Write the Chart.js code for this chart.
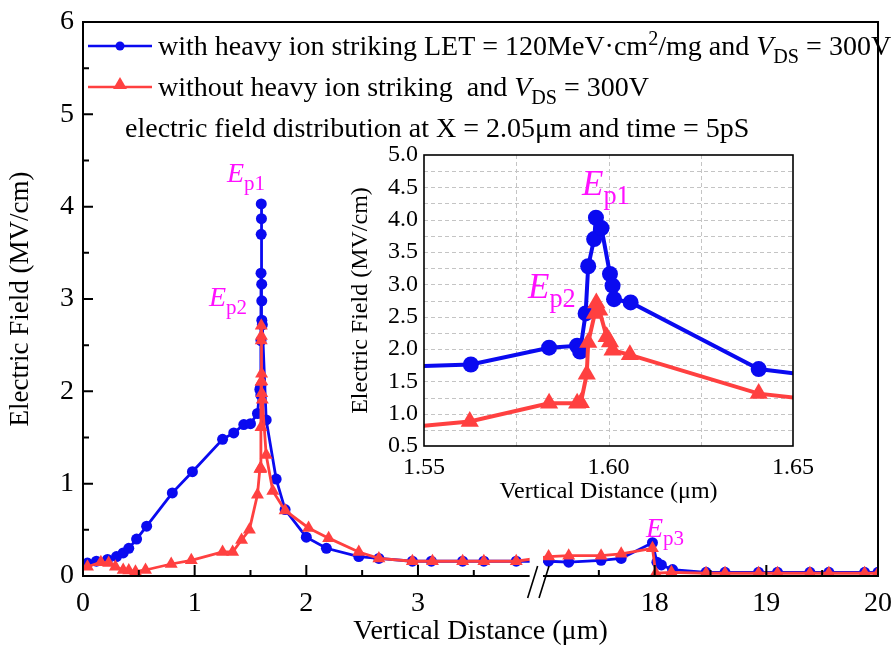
<!DOCTYPE html>
<html>
<head>
<meta charset="utf-8">
<script src="https://cdn.jsdelivr.net/npm/chart.js@4.4.1/dist/chart.umd.min.js"></script>
<style>
  body { margin: 0; background: #fff; }
  #wrap { position: relative; width: 894px; height: 648px; overflow: hidden; }
  #main { position: absolute; left: 0; top: 0; }
  #inset { position: absolute; left: 340px; top: 144px; }
</style>
</head>
<body>
<div id="wrap">
  <canvas id="main" width="894" height="648"></canvas>
  <canvas id="inset" width="490" height="366"></canvas>
</div>
<script>
// with heavy ion striking (blue circles)
const blueX = [0.04, 0.12, 0.22, 0.30, 0.36, 0.41, 0.48, 0.57, 0.80, 0.98, 1.25, 1.35, 1.44, 1.50,
  1.5627, 1.5839, 1.5915, 1.5923, 1.5938, 1.5945, 1.5961, 1.5966, 1.5981, 1.6004, 1.6011, 1.6015, 1.6060, 1.6407,
  1.73, 1.81, 2.00, 2.18, 2.47, 2.65, 2.95, 3.12, 3.40, 3.59, 3.88,
  17.05, 17.23, 17.52, 17.70, 17.98, 18.02, 18.06, 18.16, 18.46, 18.63, 18.93, 19.10, 19.39, 19.56, 19.88, 20.00];
const blueY = [0.14, 0.16, 0.18, 0.21, 0.25, 0.30, 0.40, 0.54, 0.90, 1.13, 1.48, 1.55, 1.64, 1.65,
  1.76, 2.02, 2.05, 1.96, 2.55, 3.28, 3.70, 4.03, 3.87, 3.16, 2.98, 2.77, 2.72, 1.69,
  1.05, 0.72, 0.42, 0.30, 0.21, 0.19, 0.16, 0.16, 0.16, 0.16, 0.16,
  0.16, 0.15, 0.17, 0.19, 0.36, 0.15, 0.12, 0.07, 0.04, 0.04, 0.04, 0.04, 0.04, 0.04, 0.04, 0.04];

// without heavy ion striking (red triangles)
const redX = [0.04, 0.16, 0.23, 0.29, 0.36, 0.41, 0.47, 0.56, 0.79, 0.97, 1.25, 1.34, 1.42, 1.49,
  1.5624, 1.5839, 1.5915, 1.5925, 1.5941, 1.5945, 1.5963, 1.5967, 1.5975, 1.5995, 1.6004, 1.6011, 1.6058, 1.6407,
  1.70, 1.81, 2.02, 2.20, 2.47, 2.65, 2.95, 3.13, 3.40, 3.59, 3.88,
  17.05, 17.23, 17.52, 17.70, 17.98, 18.01, 18.15, 18.46, 18.63, 18.93, 19.10, 19.39, 19.56, 19.88, 20.00];
const redY = [0.10, 0.15, 0.14, 0.10, 0.065, 0.06, 0.047, 0.065, 0.13, 0.17, 0.26, 0.26, 0.39, 0.50,
  0.88, 1.16, 1.16, 1.17, 1.61, 2.10, 2.55, 2.71, 2.60, 2.19, 2.11, 1.98, 1.91, 1.31,
  0.92, 0.71, 0.52, 0.41, 0.26, 0.19, 0.16, 0.16, 0.16, 0.16, 0.16,
  0.21, 0.22, 0.22, 0.24, 0.30, 0.03, 0.04, 0.03, 0.03, 0.03, 0.03, 0.03, 0.03, 0.03, 0.03];

const xMajor = [0, 1, 2, 3, 18, 19, 20];
const xMinor = [0.5, 1.5, 2.5, 3.5, 17.5, 18.5, 19.5];
const yMajor = [0, 1, 2, 3, 4, 5, 6];

// broken x axis: 0..4 then 17..20
const LEFT_END = 4.0;
const RIGHT_START = 17.0;
const SHIFT = 12.88;
function toAxis(x) { return x < 10 ? x : x - SHIFT; }
function fromAxis(u) { return u > LEFT_END + 0.06 ? u + SHIFT : u; }

const BLUE = '#0a0af0';
const RED = '#ff4040';
const PINK = '#ff10ff';
const SERIF = '"Liberation Serif", "Times New Roman", serif';

function pts(xs, ys, map) {
  return xs.map((x, i) => ({ x: map ? toAxis(x) : x, y: ys[i] }));
}

// draw text with italic / sub / sup pieces
function drawRich(ctx, x, y, parts, size) {
  ctx.textBaseline = 'alphabetic';
  ctx.textAlign = 'left';
  parts.forEach(p => {
    const s = (p.sub || p.sup) ? size * (p.k || 0.72) : size;
    ctx.font = (p.it ? 'italic ' : '') + s + 'px ' + SERIF;
    const dy = p.sub ? size * 0.27 : p.sup ? -size * 0.36 : 0;
    ctx.fillText(p.t, x, y + dy);
    x += ctx.measureText(p.t).width;
  });
}

function triangle(ctx, cx, cy, r) {
  ctx.beginPath();
  ctx.moveTo(cx, cy - r);
  ctx.lineTo(cx + r * 0.87, cy + r * 0.5);
  ctx.lineTo(cx - r * 0.87, cy + r * 0.5);
  ctx.closePath();
  ctx.fill();
}

function noSidePad(scale) {
  scale.paddingLeft = 0;
  scale.paddingRight = 0;
}
function noEndPad(scale) {
  scale.paddingTop = 0;
  scale.paddingBottom = 0;
}

const mainDecor = {
  id: 'mainDecor',
  beforeDraw(chart) {
    const ctx = chart.ctx;
    ctx.save();
    ctx.fillStyle = '#fff';
    ctx.fillRect(0, 0, chart.width, chart.height);
    ctx.restore();
  },
  afterDatasetsDraw(chart) {
    const { ctx, chartArea: a, scales: { x, y } } = chart;
    const g0 = x.getPixelForValue(toAxis(LEFT_END));
    const g1 = x.getPixelForValue(toAxis(RIGHT_START));
    ctx.save();
    // blank the gap of the broken axis
    ctx.fillStyle = '#fff';
    ctx.fillRect(g0, a.top + 1, g1 - g0, a.bottom - a.top - 1);

    // frame
    ctx.strokeStyle = '#000';
    ctx.lineWidth = 2;
    ctx.beginPath();
    ctx.moveTo(g0, a.bottom); ctx.lineTo(a.left, a.bottom);
    ctx.lineTo(a.left, a.top); ctx.lineTo(a.right, a.top);
    ctx.lineTo(a.right, a.bottom); ctx.lineTo(g1, a.bottom);
    ctx.stroke();

    // inward ticks
    ctx.beginPath();
    xMajor.forEach(v => { const px = x.getPixelForValue(toAxis(v)); ctx.moveTo(px, a.bottom); ctx.lineTo(px, a.bottom - 11); });
    xMinor.forEach(v => { const px = x.getPixelForValue(toAxis(v)); ctx.moveTo(px, a.bottom); ctx.lineTo(px, a.bottom - 6); });
    yMajor.forEach(v => { const py = y.getPixelForValue(v); ctx.moveTo(a.left, py); ctx.lineTo(a.left + 10, py); });
    yMajor.slice(0, -1).forEach(v => { const py = y.getPixelForValue(v + 0.5); ctx.moveTo(a.left, py); ctx.lineTo(a.left + 6, py); });
    ctx.stroke();

    // break marks
    ctx.lineWidth = 1.6;
    ctx.beginPath();
    [g0 + 5, g1 + 3].forEach(bx => { ctx.moveTo(bx - 7, a.bottom + 22); ctx.lineTo(bx + 3, a.bottom - 10); });
    ctx.stroke();

    // legend
    ctx.lineWidth = 2.5;
    ctx.strokeStyle = BLUE; ctx.fillStyle = BLUE;
    ctx.beginPath(); ctx.moveTo(88, 46); ctx.lineTo(152, 46); ctx.stroke();
    ctx.beginPath(); ctx.arc(120, 46, 4.5, 0, Math.PI * 2); ctx.fill();
    ctx.strokeStyle = RED; ctx.fillStyle = RED;
    ctx.beginPath(); ctx.moveTo(88, 87); ctx.lineTo(152, 87); ctx.stroke();
    triangle(ctx, 120, 85, 8);

    ctx.fillStyle = '#000';
    drawRich(ctx, 158, 55, [
      { t: 'with heavy ion striking LET = 120MeV\u00b7cm' }, { t: '2', sup: true },
      { t: '/mg and ' }, { t: 'V', it: true }, { t: 'DS', sub: true }, { t: ' = 300V' }
    ], 28);
    drawRich(ctx, 158, 96, [
      { t: 'without heavy ion striking  and ' }, { t: 'V', it: true }, { t: 'DS', sub: true }, { t: ' = 300V' }
    ], 28);
    drawRich(ctx, 125, 137, [{ t: 'electric field distribution at X = 2.05\u03bcm and time = 5pS' }], 28);

    // peak labels
    ctx.fillStyle = PINK;
    drawRich(ctx, 227, 182, [{ t: 'E', it: true }, { t: 'p1', sub: true, k: 0.75 }], 28);
    drawRich(ctx, 209, 306, [{ t: 'E', it: true }, { t: 'p2', sub: true, k: 0.75 }], 28);
    drawRich(ctx, 646, 537, [{ t: 'E', it: true }, { t: 'p3', sub: true, k: 0.75 }], 28);
    ctx.restore();
  }
};

new Chart(document.getElementById('main'), {
  type: 'line',
  data: {
    datasets: [{
      label: 'without heavy ion striking and VDS = 300V',
      data: pts(redX, redY, true),
      borderColor: RED, backgroundColor: RED,
      borderWidth: 2.8, pointStyle: 'triangle', pointRadius: 7.5,
      pointBorderWidth: 0, order: 1
    }, {
      label: 'with heavy ion striking LET = 120MeV·cm2/mg and VDS = 300V',
      data: pts(blueX, blueY, true),
      borderColor: BLUE, backgroundColor: BLUE,
      borderWidth: 2.8, pointStyle: 'circle', pointRadius: 5.5,
      pointBorderWidth: 0, order: 2
    }]
  },
  options: {
    responsive: false,
    animation: false,
    layout: { padding: { top: 22, right: 16, left: 0, bottom: 0 } },
    plugins: { legend: { display: false }, tooltip: { enabled: false } },
    scales: {
      x: {
        type: 'linear', min: 0, max: 7.12,
        grid: { display: false, drawTicks: false }, border: { display: false },
        afterBuildTicks(scale) { scale.ticks = xMajor.map(v => ({ value: toAxis(v) })); },
        afterFit(scale) { scale.height = 72; noSidePad(scale); },
        ticks: {
          color: '#000', padding: 11, font: { family: SERIF, size: 28 },
          maxRotation: 0, autoSkip: false,
          callback: v => String(Math.round(fromAxis(v)))
        },
        title: { display: true, text: 'Vertical Distance (\u03bcm)', color: '#000',
          font: { family: SERIF, size: 28 }, padding: { top: 0, bottom: 0 } }
      },
      y: {
        type: 'linear', min: 0, max: 6,
        grid: { display: false, drawTicks: false }, border: { display: false },
        afterFit(scale) { scale.width = 83; noEndPad(scale); },
        ticks: { color: '#000', padding: 9, stepSize: 1, font: { family: SERIF, size: 28 } },
        title: { display: true, text: 'Electric Field (MV/cm)', color: '#000',
          font: { family: SERIF, size: 27 }, padding: { top: 5, bottom: 0 } }
      }
    }
  },
  plugins: [mainDecor]
});

const insetDecor = {
  id: 'insetDecor',
  beforeDatasetsDraw(chart) {
    const { ctx, chartArea: a, scales: { x, y } } = chart;
    ctx.save();
    ctx.strokeStyle = '#c4c4c4';
    ctx.lineWidth = 1;
    ctx.setLineDash([4, 3]);
    ctx.beginPath();
    for (let i = 1; i < 4; i++) {
      const px = Math.round(x.getPixelForValue(1.55 + i * 0.025)) + 0.5;
      ctx.moveTo(px, a.top); ctx.lineTo(px, a.bottom);
    }
    for (let i = 1; i < 18; i++) {
      const py = Math.round(y.getPixelForValue(0.5 + i * 0.25)) + 0.5;
      ctx.moveTo(a.left, py); ctx.lineTo(a.right, py);
    }
    ctx.stroke();
    ctx.restore();
  },
  afterDatasetsDraw(chart) {
    const { ctx, chartArea: a } = chart;
    ctx.save();
    ctx.strokeStyle = '#000';
    ctx.lineWidth = 1.6;
    ctx.strokeRect(a.left, a.top, a.right - a.left, a.bottom - a.top);
    ctx.fillStyle = PINK;
    drawRich(ctx, 242, 51, [{ t: 'E', it: true }, { t: 'p1', sub: true, k: 0.75 }], 35);
    drawRich(ctx, 188, 154, [{ t: 'E', it: true }, { t: 'p2', sub: true, k: 0.75 }], 35);
    ctx.restore();
  }
};

new Chart(document.getElementById('inset'), {
  type: 'line',
  data: {
    datasets: [{
      data: pts(redX, redY, false),
      borderColor: RED, backgroundColor: RED,
      borderWidth: 4, pointStyle: 'triangle', pointRadius: 10.5,
      pointBorderWidth: 0, order: 1
    }, {
      data: pts(blueX, blueY, false),
      borderColor: BLUE, backgroundColor: BLUE,
      borderWidth: 4, pointStyle: 'circle', pointRadius: 8,
      pointBorderWidth: 0, order: 2
    }]
  },
  options: {
    responsive: false,
    animation: false,
    layout: { padding: { top: 11, right: 37, left: 0, bottom: 0 } },
    plugins: { legend: { display: false }, tooltip: { enabled: false } },
    scales: {
      x: {
        type: 'linear', min: 1.55, max: 1.65,
        grid: { display: false, drawTicks: false },
        border: { display: false },
        afterFit(scale) { scale.height = 64; noSidePad(scale); },
        ticks: {
          stepSize: 0.05, color: '#000', padding: 7, maxRotation: 0, autoSkip: false,
          font: { family: SERIF, size: 24 },
          callback: v => v.toFixed(2)
        },
        title: { display: true, text: 'Vertical Distance (\u03bcm)', color: '#000',
          font: { family: SERIF, size: 24 }, padding: { top: 0, bottom: 4 } }
      },
      y: {
        type: 'linear', min: 0.5, max: 5.0,
        grid: { display: false, drawTicks: false },
        border: { display: false },
        afterFit(scale) { scale.width = 84; noEndPad(scale); },
        ticks: {
          stepSize: 0.5, color: '#000', padding: 6, autoSkip: false,
          font: { family: SERIF, size: 24 },
          callback: v => v.toFixed(1)
        },
        title: { display: true, text: 'Electric Field (MV/cm)', color: '#000',
          font: { family: SERIF, size: 24 }, padding: { top: 6, bottom: 0 } }
      }
    }
  },
  plugins: [insetDecor]
});
</script>
</body>
</html>
